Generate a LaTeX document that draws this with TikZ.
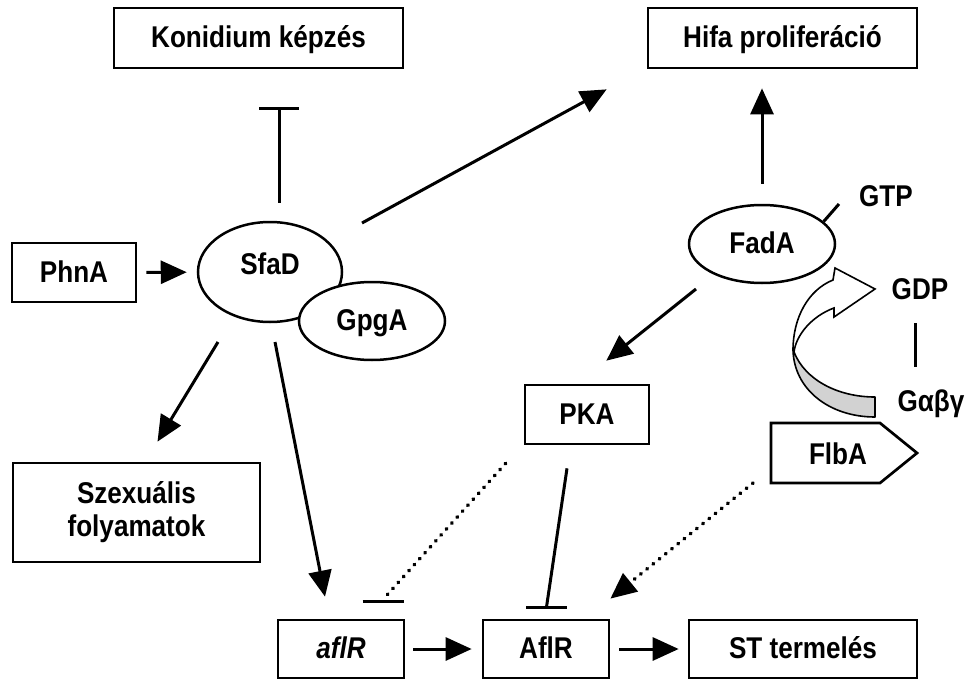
\documentclass[tikz,border=0pt]{standalone}
\usepackage{fontspec}
\setmainfont{Liberation Sans}[FakeStretch=0.87]
\usetikzlibrary{shapes.geometric, arrows.meta, positioning, calc}
\newcommand{\labfont}{\fontsize{30}{33}\selectfont\bfseries}
\tikzstyle{box} = [rectangle, draw=black, line width=2.7pt, fill=white, font=\labfont, text height=21.5pt, text depth=2.5pt, inner sep=0pt]
\tikzstyle{oval} = [ellipse, draw=black, line width=2.5pt, fill=white, font=\labfont, text height=21.5pt, text depth=2.5pt, inner sep=0pt]
\tikzstyle{txt} = [font=\labfont, text height=21.5pt, text depth=2.5pt, inner sep=0pt]
\tikzstyle{arrow} = [line width=3pt, -{Triangle[length=26pt,width=23pt]}]
\tikzstyle{plain} = [line width=3pt]
\tikzstyle{inhib} = [line width=3pt, -{Bar[width=40pt]}]
\tikzstyle{dots} = [line width=3.8pt, line cap=round, dash pattern=on 0.6pt off 7.4pt]
\begin{document}
\begin{tikzpicture}[x=1pt, y=-1pt]
\useasboundingbox (0,0) rectangle (971,679);

\node[box, minimum width=289pt, minimum height=60pt] (konidium) at (258.5,38) {Konidium képzés};
\node[box, minimum width=269pt, minimum height=60pt] (hifa) at (782.5,38) {Hifa proliferáció};
\node[box, minimum width=124pt, minimum height=59pt] (phna) at (74,272.5) {PhnA};
\node[oval, minimum width=144pt, minimum height=100pt, text depth=16pt] (sfad) at (270,272) {SfaD};
\node[oval, minimum width=146pt, minimum height=78pt] (gpga) at (372,321) {GpgA};
\node[oval, minimum width=146pt, minimum height=78pt] (fada) at (762,244) {FadA};
\node[box, minimum width=124pt, minimum height=59pt] (pka) at (587,414.5) {PKA};
\node[box, minimum width=247pt, minimum height=99pt, align=center, text height=, text depth=] (szex) at (136.5,512.5) {Szexuális\\folyamatok};
\node[box, minimum width=126pt, minimum height=58pt] (aflrgen) at (341,649) {\textit{aflR}};
\node[box, minimum width=126pt, minimum height=58pt] (aflrprot) at (546,649) {AflR};
\node[box, minimum width=228pt, minimum height=58pt] (st) at (803,649) {ST termelés};
\draw[line width=2.7pt] (771,423) -- (880,423) -- (917,453) -- (880,483) -- (771,483) -- cycle;
\node[txt] (flba) at (838,455) {FlbA};
\node[txt] (gtp) at (886,197) {GTP};
\node[txt] (gdp) at (920,290) {GDP};
\node[txt] (gabg) at (931,402) {Gαβγ};

\coordinate (kbar) at (279,107);
\coordinate (bar1) at (383,601);
\coordinate (bar2) at (546.5,607);

\draw[arrow, shorten <=9pt, shorten >=10pt] (phna) -- (sfad);
\draw[inhib] ([xshift=9pt,yshift=18pt]sfad.north) -- (kbar);
\draw[arrow] ($(sfad)+(92,-49)$) -- ($(hifa.south west)+(-40,20)$);
\draw[arrow, shorten <=20pt, shorten >=19pt] (fada.north) -- (fada.north |- hifa.south);
\draw[plain] (fada.20) -- ($(gtp.west)+(-20,7)$);
\draw[plain] ($(gdp.south)+(-5,21)$) -- ($(gabg.north)+(-16,-23)$);
\draw[arrow] ($(fada)+(-66,45)$) -- ($(pka.north east)+(-44,-23)$);
\draw[arrow] ($(sfad)+(-52,70)$) -- ($(szex.north)+(21,-20)$);
\draw[arrow] ($(sfad)+(5,70)$) -- ($(aflrgen.north)+(-16,-22)$);
\draw[dots] ($(pka.south west)+(-18,18)$) -- ($(bar1)+(4,-6)$);
\draw[plain] ([xshift=-20.5pt]bar1) -- ([xshift=20.5pt]bar1);
\draw[plain] ($(pka.south)+(-20,23)$) -- (bar2);
\draw[plain] ([xshift=-20.5pt]bar2) -- ([xshift=20.5pt]bar2);
\draw[dots, -{Triangle[length=26pt,width=23pt]}] ($(flba)+(-85,28)$) -- ($(aflrprot.north east)+(0,-20)$);
\draw[arrow, shorten <=8pt, shorten >=10pt] (aflrgen) -- (aflrprot);
\draw[arrow, shorten <=9pt, shorten >=9pt] (aflrprot) -- (st);

\draw[line width=1.6pt, fill=gray!35, line join=round] (793,350) .. controls (794,390) and (830,417) .. (875,417) -- (875,397) .. controls (838,397) and (805,380) .. (794,352) -- cycle;
\draw[line width=1.6pt, fill=white] (833,280) -- (835,268) -- (875,289) -- (834,317) -- (834,308) .. controls (812,316) and (796,335) .. (794,352) -- (793,350) .. controls (793,318) and (808,290) .. (833,280) -- cycle;
\end{tikzpicture}
\end{document}
